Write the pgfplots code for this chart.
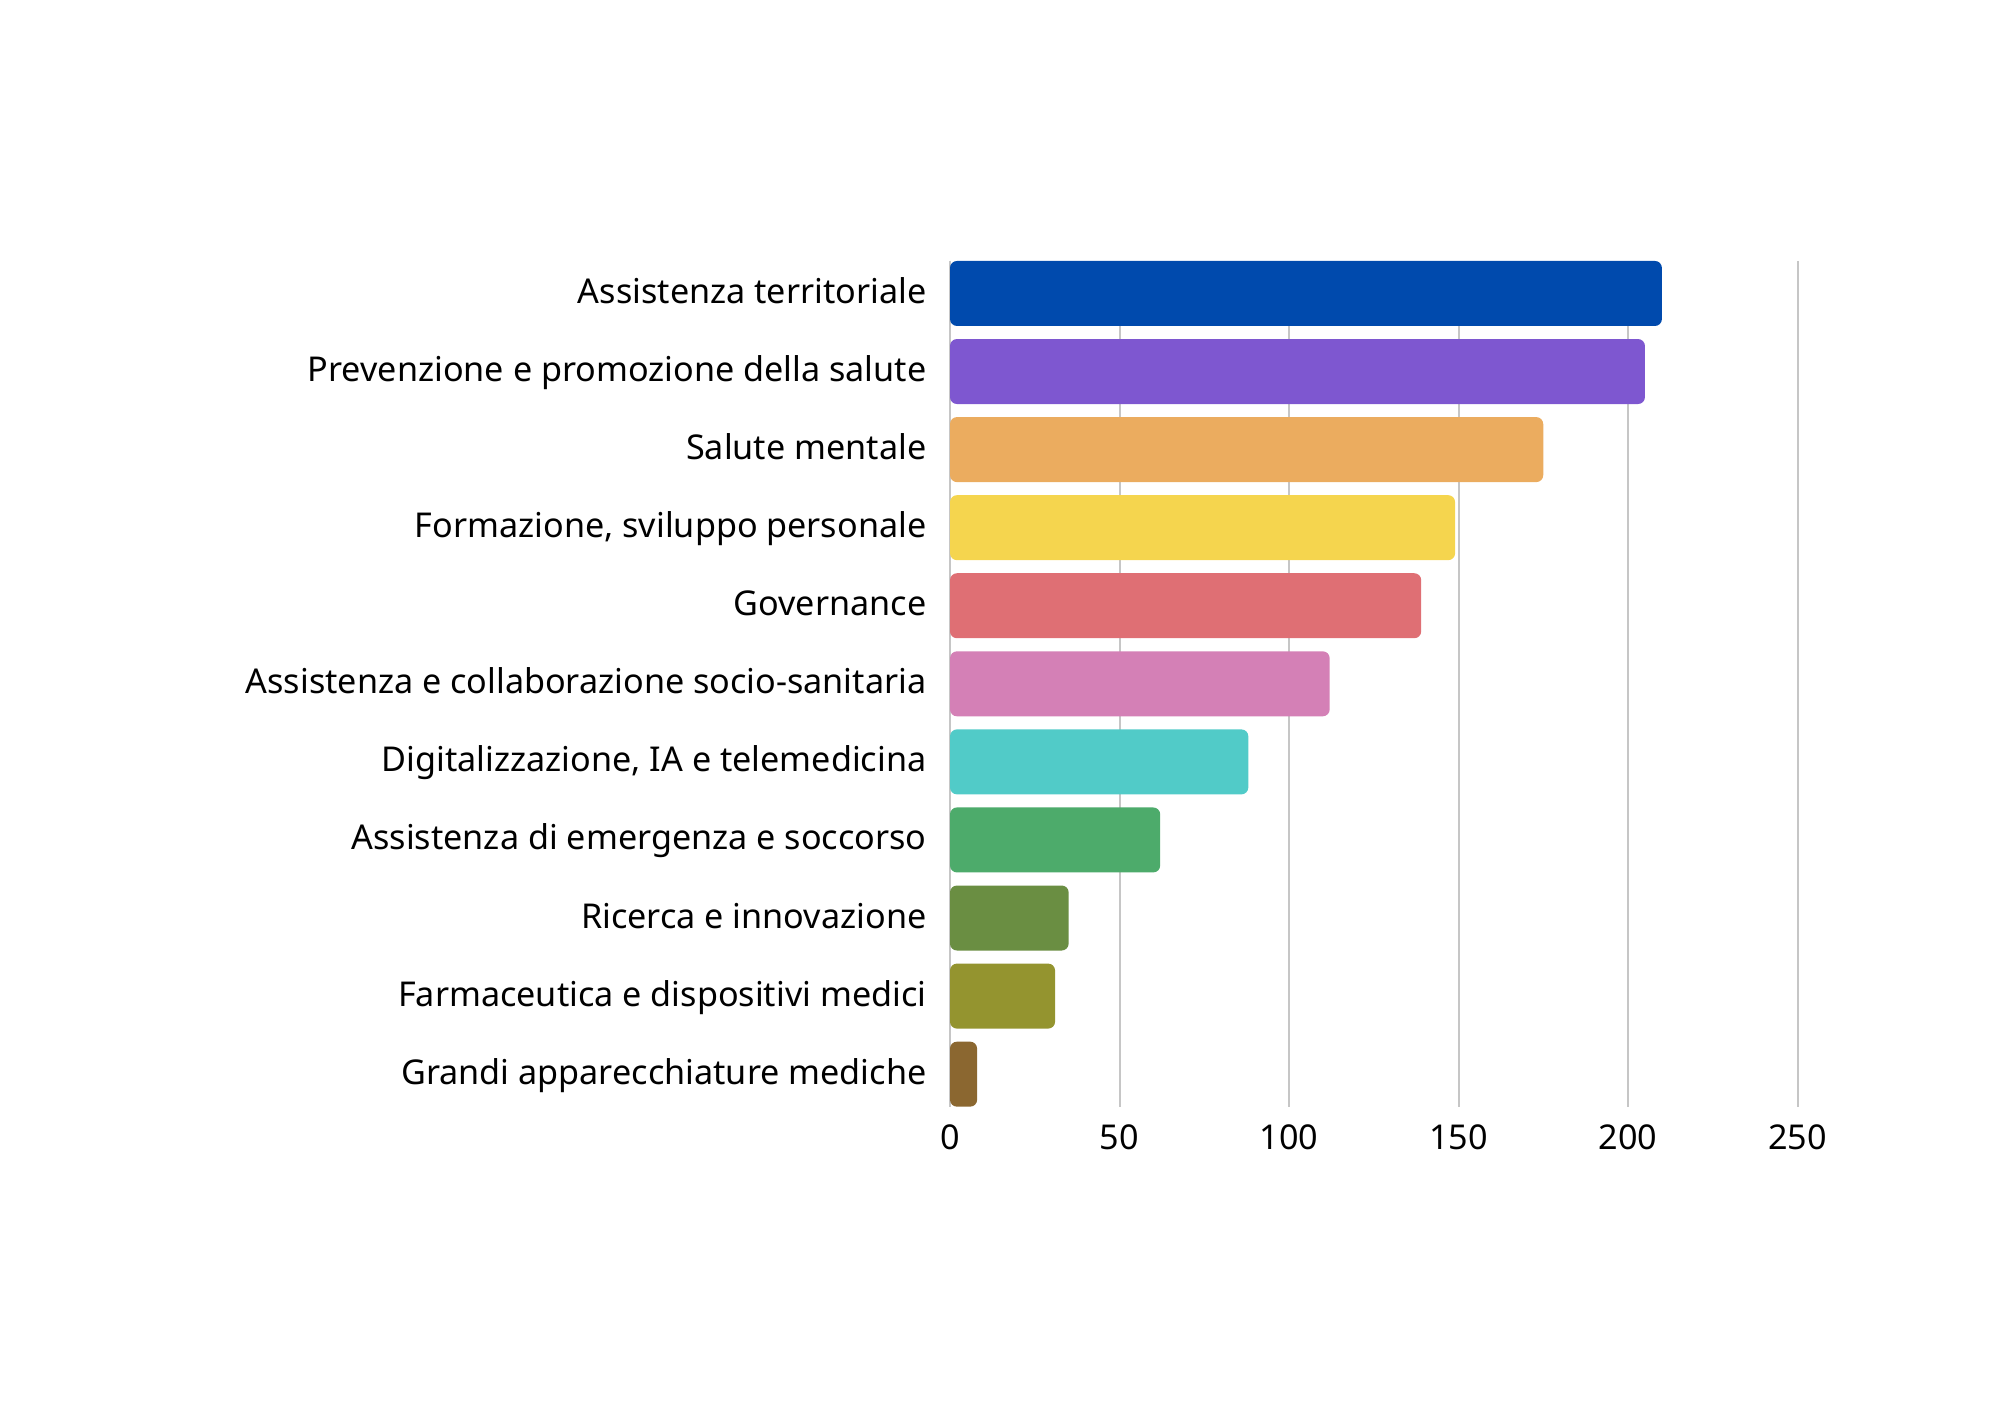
\documentclass[border=0pt]{standalone}
\usepackage{fontspec}
\setmainfont{Noto Sans}
\usepackage{pgfplots}
\pgfplotsset{compat=1.18}
\definecolor{c1}{HTML}{004AAD}
\definecolor{c2}{HTML}{7E57D0}
\definecolor{c3}{HTML}{EBAC5F}
\definecolor{c4}{HTML}{F5D54E}
\definecolor{c5}{HTML}{DF6F74}
\definecolor{c6}{HTML}{D480B6}
\definecolor{c7}{HTML}{51CBC8}
\definecolor{c8}{HTML}{4DAB6B}
\definecolor{c9}{HTML}{6A8E42}
\definecolor{c10}{HTML}{94942F}
\definecolor{c11}{HTML}{8B6730}
\begin{document}
\begin{tikzpicture}
\path[use as bounding box] (0,0) rectangle (720pt,507.6pt);
\begin{axis}[
  at={(342pt,109.2pt)}, anchor=south west,
  scale only axis, width=305.1pt, height=304.45pt,
  xbar, bar width=23.4pt, bar shift=0pt,
  xmin=0, xmax=250, ymin=-0.4163, ymax=10.4163,
  y dir=reverse,
  xtick={0,50,100,150,200,250},
  ytick={0,1,2,3,4,5,6,7,8,9,10},
  yticklabels={Assistenza territoriale,Prevenzione e promozione della salute,Salute mentale,{Formazione, sviluppo personale},Governance,Assistenza e collaborazione socio-sanitaria,{Digitalizzazione, IA e telemedicina},Assistenza di emergenza e soccorso,Ricerca e innovazione,Farmaceutica e dispositivi medici,Grandi apparecchiature mediche},
  /pgf/number format/assume math mode=true,
  tick label style={font=\fontsize{12.3}{15}\selectfont, inner sep=0pt},
  yticklabel style={anchor=base east, xshift=-8.3pt, yshift=-3.6pt},
  xticklabel style={anchor=base, yshift=-15.6pt},
  major tick length=0pt,
  axis lines*=left,
  x axis line style={draw=none},
  y axis line style={draw=gray!45, line width=0.72pt},
  xmajorgrids, grid style={draw=gray!45, line width=0.72pt},
  every axis plot/.append style={draw=none, rounded corners=2.5pt},
]
\addplot[fill=c1] coordinates {(210,0)};
\addplot[fill=c2] coordinates {(205,1)};
\addplot[fill=c3] coordinates {(175,2)};
\addplot[fill=c4] coordinates {(149,3)};
\addplot[fill=c5] coordinates {(139,4)};
\addplot[fill=c6] coordinates {(112,5)};
\addplot[fill=c7] coordinates {(88,6)};
\addplot[fill=c8] coordinates {(62,7)};
\addplot[fill=c9] coordinates {(35,8)};
\addplot[fill=c10] coordinates {(31,9)};
\addplot[fill=c11] coordinates {(8,10)};
\end{axis}
\end{tikzpicture}
\end{document}
